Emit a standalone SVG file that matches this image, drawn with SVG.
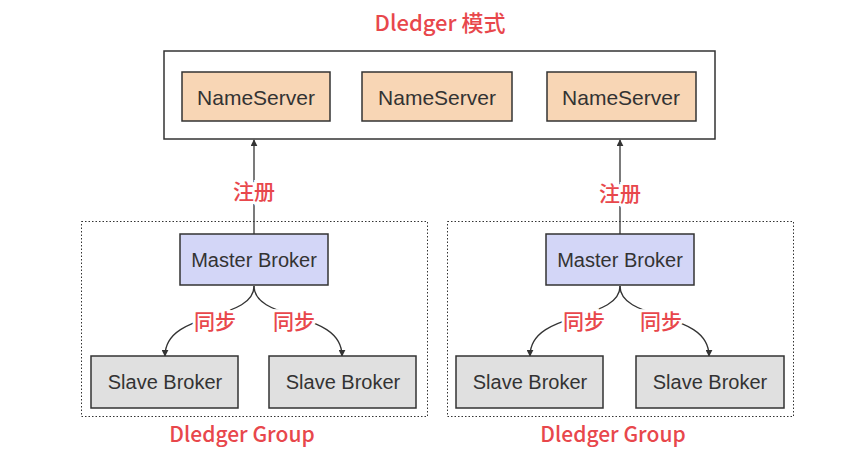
<svg xmlns="http://www.w3.org/2000/svg" width="863" height="455" viewBox="0 0 863 455">
<defs>
<style>
.ns{fill:#f8d6b5;stroke:#333;stroke-width:1.5}
.ms{fill:#d3d6f7;stroke:#333;stroke-width:1.5}
.sl{fill:#e0e0e0;stroke:#333;stroke-width:1.5}
.grp{fill:none;stroke:#333;stroke-width:1;stroke-dasharray:1.5 2}
.t{font-family:"Liberation Sans","Noto Sans CJK SC",sans-serif;font-size:20px;fill:#333;text-anchor:middle;dominant-baseline:central}
.r{font-family:"Noto Sans CJK SC","Liberation Sans",sans-serif;font-size:21px;font-weight:500;fill:#e8474c;text-anchor:middle;dominant-baseline:central}
.lb{stroke:#fff;stroke-width:6;paint-order:stroke}
.c{fill:none;stroke:#333;stroke-width:1.3;marker-end:url(#ah)}
</style>
<marker id="ah" viewBox="0 0 10 10" refX="9" refY="5" markerWidth="7" markerHeight="7" orient="auto" markerUnits="userSpaceOnUse"><path d="M0,0 L10,5 L0,10 z" fill="#333"/></marker>
</defs>
<rect width="863" height="455" fill="#fff"/>
<text class="r" x="440" y="21" style="font-size:22px">Dledger 模式</text>
<g id="nameservers">
<rect x="164" y="51" width="551" height="88" fill="#fff" stroke="#333" stroke-width="1.5"/>
<g id="ns1"><rect class="ns" x="182" y="72" width="148" height="49"/><text class="t" x="256" y="97" style="font-size:21px">NameServer</text></g>
<g id="ns2"><rect class="ns" x="362" y="72" width="150" height="49"/><text class="t" x="437" y="97" style="font-size:21px">NameServer</text></g>
<g id="ns3"><rect class="ns" x="547" y="72" width="149" height="49"/><text class="t" x="621" y="97" style="font-size:21px">NameServer</text></g>
</g>
<g id="group1">
<rect class="grp" x="81.5" y="221.5" width="346" height="195"/>
<text class="r" x="242" y="433">Dledger Group</text>
</g>
<g id="group2">
<rect class="grp" x="447.5" y="221.5" width="346" height="195"/>
<text class="r" x="613" y="433">Dledger Group</text>
</g>
<g id="connectors">
<path class="c" d="M254,234 L254,140"/>
<path class="c" d="M620,234 L620,140"/>
<path class="c" d="M254,286 C254,322 165,310 165,356"/>
<path class="c" d="M254,286 C254,322 342,310 342,356"/>
<path class="c" d="M620,286 C620,322 530,310 530,356"/>
<path class="c" d="M620,286 C620,322 709,310 709,356"/>
</g>
<g id="labels">
<text class="r lb" x="254" y="190">注册</text>
<text class="r lb" x="620" y="192">注册</text>
<text class="r lb" x="215" y="320">同步</text>
<text class="r lb" x="294" y="320">同步</text>
<text class="r lb" x="584" y="320">同步</text>
<text class="r lb" x="661" y="320">同步</text>
</g>
<g id="master1"><rect class="ms" x="180" y="234" width="148" height="51"/><text class="t" x="254" y="260">Master Broker</text></g>
<g id="master2"><rect class="ms" x="546" y="234" width="148" height="51"/><text class="t" x="620" y="260">Master Broker</text></g>
<g id="slave1"><rect class="sl" x="91" y="356" width="147" height="52"/><text class="t" x="165" y="382">Slave Broker</text></g>
<g id="slave2"><rect class="sl" x="269" y="356" width="147" height="52"/><text class="t" x="343" y="382">Slave Broker</text></g>
<g id="slave3"><rect class="sl" x="456" y="356" width="147" height="52"/><text class="t" x="530" y="382">Slave Broker</text></g>
<g id="slave4"><rect class="sl" x="636" y="356" width="148" height="52"/><text class="t" x="710" y="382">Slave Broker</text></g>
</svg>
